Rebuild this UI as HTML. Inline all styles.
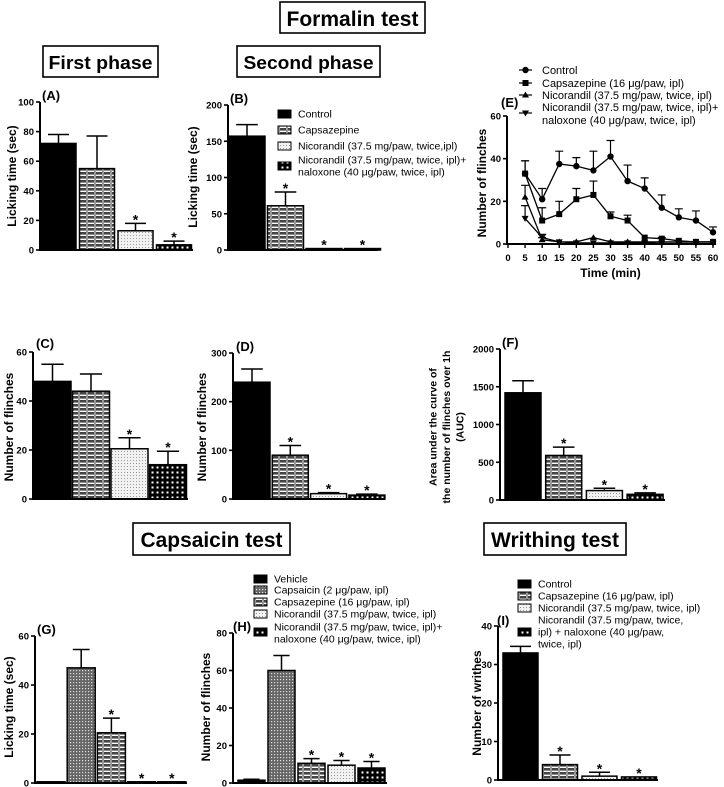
<!DOCTYPE html>
<html><head><meta charset="utf-8"><style>
html,body{margin:0;padding:0;background:#fff;}
svg{display:block;font-family:"Liberation Sans",Arial,sans-serif;font-weight:bold;}
</style></head><body>
<svg id="fig" width="724" height="787" viewBox="0 0 724 787" xmlns="http://www.w3.org/2000/svg">
<defs>
<pattern id="brick" width="8" height="4" patternUnits="userSpaceOnUse"><rect width="8" height="4" fill="#fff"/><rect x="0" y="0" width="6" height="2.6" fill="#444"/><rect x="6" y="0" width="2" height="4" fill="#999"/></pattern>
<pattern id="light" width="3" height="3" patternUnits="userSpaceOnUse"><rect width="3" height="3" fill="#f2f2f2"/><rect x="1" y="1" width="1" height="1" fill="#999"/></pattern>
<pattern id="dark" width="5" height="5" patternUnits="userSpaceOnUse"><rect width="5" height="5" fill="#000"/><rect x="1.5" y="1.5" width="2" height="2" fill="#fff"/></pattern>
<pattern id="caps" width="3" height="3" patternUnits="userSpaceOnUse"><rect width="3" height="3" fill="#666"/><rect x="1" y="1" width="1.2" height="1.2" fill="#ddd"/></pattern>
</defs>

<g><rect x="280" y="2" width="145" height="31" fill="none" stroke="#000" stroke-width="1.6"/><text x="352.5" y="26" font-size="21" text-anchor="middle" textLength="132" lengthAdjust="spacingAndGlyphs">Formalin test</text></g>
<g><rect x="43" y="46" width="115" height="31" fill="none" stroke="#000" stroke-width="1.6"/><text x="100.5" y="69" font-size="18" text-anchor="middle" textLength="104" lengthAdjust="spacingAndGlyphs">First phase</text></g>
<g><rect x="237" y="46" width="143" height="31" fill="none" stroke="#000" stroke-width="1.6"/><text x="308.5" y="69" font-size="18" text-anchor="middle" textLength="130" lengthAdjust="spacingAndGlyphs">Second phase</text></g>
<g><rect x="133" y="523" width="157" height="32" fill="none" stroke="#000" stroke-width="1.6"/><text x="211.5" y="547" font-size="21" text-anchor="middle" textLength="142" lengthAdjust="spacingAndGlyphs">Capsaicin test</text></g>
<g><rect x="484" y="523" width="142" height="32" fill="none" stroke="#000" stroke-width="1.6"/><text x="555" y="547" font-size="21" text-anchor="middle" textLength="128" lengthAdjust="spacingAndGlyphs">Writhing test</text></g>
</svg>
<script>
// ---- data ----
const aVals=[72,55,13,3.5], aErr=[6,22,5,2.5], aStar=[0,0,1,1], aTicks=[0,20,40,60,80,100];
const bVals=[157,61,2,2], bErr=[16,19,0,0], bStar=[0,1,1,1], bTicks=[0,50,100,150,200];
const cVals=[48,44,20.5,14], cErr=[7,7,4.5,5.5], cStar=[0,0,1,1], cTicks=[0,20,40,60];
const dVals=[240,90,11,8], dErr=[27,20,2,2], dStar=[0,1,1,1], dTicks=[0,100,200,300];
const fVals=[1420,590,125,75], fErr=[160,110,30,20], fStar=[0,1,1,1], fTicks=[0,500,1000,1500,2000];
const gVals=[0.5,47,20.5,0.5,0.5], gErr=[0,7.5,6,0,0], gStar=[0,0,1,1,1], gTicks=[0,20,40,60];
const hVals=[1.5,60,10.5,9.5,8], hErr=[0.5,8,2.5,2.5,3.5], hStar=[0,0,1,1,1], hTicks=[0,20,40,60,80];
const iVals=[33,4,1,0.8], iErr=[1.7,2.5,1,0], iStar=[0,1,1,1], iTicks=[0,10,20,30,40];
const eTimes=[5,10,15,20,25,30,35,40,45,50,55,60];
const eControl=[33,21,37.5,36.5,34.5,41,29.5,26,17,12.5,11,5.5];
const eControlErr=[6,5,6,4,9,7.5,7.5,5,6,4,4.5,2.5];
const eCapsaz=[33,11,14,21,23,13,11,3,2.5,1.5,1,1];
const eCapsazErr=[6,6,6,5,6.5,2,2.5,0,0.5,0,0,0];
const eNico=[22,2,1,1,3,1,1,1,1,1,1,1];
const eNicoErr=[5.5,1,0,0,0,0,0,0,0,0,0,0];
const eNicoNal=[12,3,1,0.5,0.5,0.5,0.5,0.5,0.3,0.3,0.3,0.3];
const eNicoNalErr=[6,1.5,0,0,0,0,0,0,0,0,0,0];
const eTicks=[0,20,40,60];

const NS="http://www.w3.org/2000/svg";
const svg=document.getElementById('fig');
function mk(tag,attrs,parent,txt){const e=document.createElementNS(NS,tag);for(const k in attrs)e.setAttribute(k,attrs[k]);if(txt!==undefined)e.textContent=txt;(parent||svg).appendChild(e);return e;}

function barPanel(id,cfg,vals,errs,stars,ticks,fills){
  const g=mk('g',{});
  
  
  const y=v=>cfg.y0-v/cfg.max*(cfg.y0-cfg.yt);
  vals.forEach((v,i)=>{
    const x=cfg.start+i*cfg.pitch;
    const r=mk('rect',{x:x,y:y(v),width:cfg.w,height:Math.max(cfg.y0-y(v),1),fill:fills[i],stroke:'#000','stroke-width':1.5},g);
    
    
    const cx=x+cfg.w/2, top=y(v+errs[i]);
    if(errs[i]>0){
      const eb=mk('path',{d:`M${cx},${y(v)}V${top}M${cx-cfg.w*0.3},${top}H${cx+cfg.w*0.3}`,stroke:'#000','stroke-width':1.5,fill:'none'},g);
      
      
    }
    if(stars[i]){
      const s=mk('text',{x:cx,y:top+1,'font-size':14,'text-anchor':'middle'},g,'*');
      
      
    }
  });
  const ax=mk('path',{d:`M${cfg.ax},${cfg.yt}V${cfg.y0}H${cfg.xend}`,stroke:'#000','stroke-width':2,fill:'none'},g);
  
  
  ticks.forEach(t=>{
    mk('line',{x1:cfg.ax-4,x2:cfg.ax,y1:y(t),y2:y(t),stroke:'#000','stroke-width':1.6},g);
    const tl=mk('text',{x:cfg.ax-6,y:y(t)+3.5,'font-size':9.5,'text-anchor':'end'},g,t);
    
    
  });
  const lab=mk('text',{x:cfg.lx,y:cfg.ly,'font-size':13},g,cfg.label);
  
  
  cfg.ytitle.forEach((line,k)=>{
    const tx=cfg.tx+k*cfg.tdx;
    const yt=mk('text',{x:tx,y:cfg.ty,'font-size':cfg.tfs||12,'text-anchor':'middle',transform:`rotate(-90 ${tx} ${cfg.ty})`,dy:'0.35em'},g,line);
    
    
  });
}

const F4=['#000','url(#brick)','url(#light)','url(#dark)'];
const F5=['#000','url(#caps)','url(#brick)','url(#light)','url(#dark)'];
barPanel('a',{ax:40,y0:250,yt:102,max:100,xend:193,start:41,w:35,pitch:38.5,lx:42,ly:100,label:'(A)',tx:12,ty:176,tdx:0,ytitle:['Licking time (sec)']},aVals,aErr,aStar,aTicks,F4);
barPanel('b',{ax:228,y0:250,yt:105,max:200,xend:378,start:229,w:36,pitch:38.5,lx:230,ly:103,label:'(B)',tx:193,ty:177,tdx:0,ytitle:['Licking time (sec)']},bVals,bErr,bStar,bTicks,F4);
barPanel('c',{ax:33,y0:499,yt:352,max:60,xend:188,start:34,w:37,pitch:38.5,lx:36,ly:348,label:'(C)',tx:9,ty:427,tdx:0,ytitle:['Number of flinches']},cVals,cErr,cStar,cTicks,F4);
barPanel('d',{ax:233,y0:499,yt:353,max:300,xend:385,start:234,w:36,pitch:38.3,lx:236,ly:351,label:'(D)',tx:202,ty:427,tdx:0,ytitle:['Number of flinches']},dVals,dErr,dStar,dTicks,F4);
barPanel('f',{ax:500,y0:500,yt:349,max:2000,xend:665,start:505,w:36,pitch:40.7,lx:502,ly:347,label:'(F)',tx:433,ty:427,tdx:13.5,tfs:10.5,ytitle:['Area under the curve of','the number of flinches over 1h','(AUC)']},fVals,fErr,fStar,fTicks,F4);
barPanel('g',{ax:35,y0:783,yt:636,max:60,xend:187,start:37,w:28,pitch:30.2,lx:37,ly:634,label:'(G)',tx:9,ty:707,tdx:0,ytitle:['Licking time (sec)']},gVals,gErr,gStar,gTicks,F5);
barPanel('h',{ax:233,y0:783,yt:633,max:80,xend:387,start:238,w:27,pitch:30,lx:233,ly:631,label:'(H)',tx:206,ty:707,tdx:0,ytitle:['Number of flinches']},hVals,hErr,hStar,hTicks,F5);
barPanel('i',{ax:498,y0:780,yt:626,max:40,xend:658,start:503,w:35,pitch:39.5,lx:497,ly:625,label:'(I)',tx:477,ty:703,tdx:0,ytitle:['Number of writhes']},iVals,iErr,iStar,iTicks,F4);

// legends
function legend(id,x,rows,fs){
  const g=mk('g',{});
  
  
  rows.forEach(r=>{
    if(r.fill){mk('rect',{x:x,y:r.sy-4,width:13,height:8,fill:r.fill,stroke:'#000','stroke-width':1},g);}
    const lh=r.lh||12;
    r.lines.forEach((t,k)=>{
      const e=mk('text',{x:x+20,y:r.y+k*lh+3.5,'font-size':fs,'font-weight':'normal'},g,t);
      
      
    });
  });
}
legend('b-legend',278,[{fill:'#000',sy:114,y:114,lines:['Control']},{fill:'url(#brick)',sy:130,y:130,lines:['Capsazepine']},{fill:'url(#light)',sy:146,y:146,lines:['Nicorandil (37.5 mg/paw, twice,ipl)']},{fill:'url(#dark)',sy:166,y:160,lh:12,lines:['Nicorandil (37.5 mg/paw, twice, ipl)+','naloxone (40 μg/paw, twice, ipl)']}],10.5);
legend('h-legend',254,[{fill:'#000',sy:579,y:579,lines:['Vehicle']},{fill:'url(#caps)',sy:590,y:590,lines:['Capsaicin (2 μg/paw, ipl)']},{fill:'url(#brick)',sy:602,y:602,lines:['Capsazepine (16 μg/paw, ipl)']},{fill:'url(#light)',sy:614,y:614,lines:['Nicorandil (37.5 mg/paw, twice, ipl)']},{fill:'url(#dark)',sy:632,y:627,lh:12,lines:['Nicorandil (37.5 mg/paw, twice, ipl)+','naloxone (40 μg/paw, twice, ipl)']}],10.5);
legend('i-legend',518,[{fill:'#000',sy:584,y:584,lines:['Control']},{fill:'url(#brick)',sy:596,y:596,lines:['Capsazepine (16 μg/paw, ipl)']},{fill:'url(#light)',sy:608,y:608,lines:['Nicorandil (37.5 mg/paw, twice, ipl)']},{fill:'url(#dark)',sy:632,y:620,lh:12,lines:['Nicorandil (37.5 mg/paw, twice,','ipl) + naloxone (40 μg/paw,','twice, ipl)']}],10.5);

// line chart E
(function(){
  const g=mk('g',{});
  
  
  const X=t=>508+t*(205/60), Y=v=>244-v*(128/60);
  function marker(type,cx,cy,par){
    if(type==='circle')return mk('circle',{cx:cx,cy:cy,r:3.2,fill:'#000'},par);
    if(type==='square')return mk('rect',{x:cx-3,y:cy-3,width:6,height:6,fill:'#000'},par);
    if(type==='up')return mk('path',{d:`M${cx},${cy-3.5}L${cx+3.5},${cy+2.5}L${cx-3.5},${cy+2.5}Z`,fill:'#000'},par);
    return mk('path',{d:`M${cx},${cy+3.5}L${cx+3.5},${cy-2.5}L${cx-3.5},${cy-2.5}Z`,fill:'#000'},par);
  }
  const series=[['control',eControl,eControlErr,'circle'],['capsazepine',eCapsaz,eCapsazErr,'square'],['nicorandil',eNico,eNicoErr,'up'],['nicorandil-naloxone',eNicoNal,eNicoNalErr,'down']];
  series.forEach(([nm,vals,errs,m])=>{
    const sg=mk('g',{},g);
    
    
    vals.forEach((v,i)=>{
      if(errs[i]>0){const cx=X(eTimes[i]),t=Y(v+errs[i]);mk('path',{d:`M${cx},${Y(v)}V${t}M${cx-4},${t}H${cx+4}`,stroke:'#000','stroke-width':1.2,fill:'none'},sg);}
    });
    const ln=mk('polyline',{points:vals.map((v,i)=>X(eTimes[i])+','+Y(v)).join(' '),fill:'none',stroke:'#000','stroke-width':1.3},sg);
    
    
    vals.forEach((v,i)=>{
      const p=marker(m,X(eTimes[i]),Y(v),sg);
      
      
    });
  });
  const ax=mk('path',{d:`M${X(0)-1},${Y(60)}V${Y(0)}H${X(60)+3}`,stroke:'#000','stroke-width':2,fill:'none'},g);
  
  
  eTicks.forEach(t=>{
    mk('line',{x1:X(0)-5,x2:X(0)-1,y1:Y(t),y2:Y(t),stroke:'#000','stroke-width':1.6},g);
    const tl=mk('text',{x:X(0)-7,y:Y(t)+3.5,'font-size':9.5,'text-anchor':'end'},g,t);
    
    
  });
  [0].concat(eTimes).forEach(t=>{
    mk('line',{x1:X(t),x2:X(t),y1:Y(0),y2:Y(0)+4,stroke:'#000','stroke-width':1.4},g);
    const tl=mk('text',{x:X(t),y:261,'font-size':9.5,'text-anchor':'middle'},g,t);
    
    
  });
  const xt=mk('text',{x:X(30),y:277,'font-size':12,'text-anchor':'middle'},g,'Time (min)');
  
  
  const yt=mk('text',{x:482,y:183,'font-size':12,'text-anchor':'middle',transform:'rotate(-90 482 183)',dy:'0.35em'},g,'Number of flinches');
  
  
  const lab=mk('text',{x:501,y:107,'font-size':13},g,'(E)');
  
  
  const lg=mk('g',{},g);
  
  
  const rows=[['circle',70,70,'Control'],['square',83,83,'Capsazepine (16 μg/paw, ipl)'],['up',95,95,'Nicorandil (37.5 mg/paw, twice, ipl)'],['down',113,107,'Nicorandil (37.5 mg/paw, twice, ipl)+'],[null,0,120,'naloxone (40 μg/paw, twice, ipl)']];
  rows.forEach(([m,my,ty,t])=>{
    if(m){mk('line',{x1:519,x2:532,y1:my,y2:my,stroke:'#000','stroke-width':1.2},lg);marker(m,525.5,my,lg);}
    const e=mk('text',{x:542,y:ty+4,'font-size':11,'font-weight':'normal'},lg,t);
    
    
  });
})();
</script>
</body></html>
